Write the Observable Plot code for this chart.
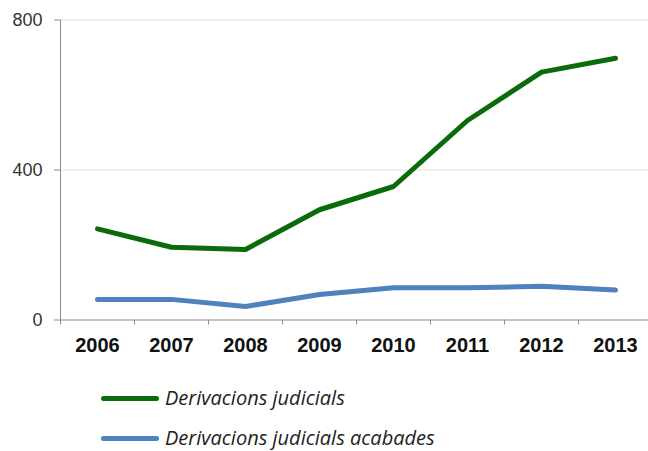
<!DOCTYPE html>
<html>
<head>
<meta charset="utf-8">
<script src="https://cdn.jsdelivr.net/npm/d3@7"></script>
<script src="https://cdn.jsdelivr.net/npm/@observablehq/plot@0.6"></script>
<style>
  html, body { margin: 0; padding: 0; background: #fff; overflow: hidden; }
  #chart { width: 648px; }
  .legend { font-family: "Open Sans", "Liberation Sans", sans-serif; font-style: italic; font-size: 20px; line-height: 22px; color: #222; }
  .row { height: 40px; display: flex; align-items: center; }
  .sw { display: inline-block; width: 58px; height: 5px; border-radius: 3px; margin-left: 101px; margin-right: 6px; }
</style>
</head>
<body>
<div id="chart"></div>
<script>
const years = [2006, 2007, 2008, 2009, 2010, 2011, 2012, 2013];
const derivacions = [243, 194, 188, 294, 356, 532, 661, 698];
const acabades = [55, 55, 36, 68, 86, 86, 90, 80];
const yTicks = [0, 400, 800];
const seriesNames = ["Derivacions judicials", "Derivacions judicials acabades"];
const seriesColors = ["#0a6b0a", "#4f81bd"];

const data = [
  ...years.map((y, i) => ({year: y, value: derivacions[i], series: seriesNames[0]})),
  ...years.map((y, i) => ({year: y, value: acabades[i], series: seriesNames[1]}))
];
const tickPos = years.map(y => y - 0.5);

const plot = Plot.plot({
  width: 648,
  height: 370,
  marginLeft: 60,
  marginRight: -4,
  marginTop: 19.5,
  marginBottom: 50.5,
  style: {fontFamily: "'Liberation Sans', Arial, sans-serif", color: "#262626", background: "#fff"},
  x: {type: "linear", domain: [2005.5, 2013.5]},
  y: {domain: [0, 800]},
  color: {domain: seriesNames, range: seriesColors},
  marks: [
    Plot.gridY([400, 800], {stroke: "#e4e2d2", strokeOpacity: 1}),
    Plot.ruleY([0], {stroke: "#8c8c8c"}),
    Plot.ruleX([2005.5], {stroke: "#8c8c8c"}),
    Plot.axisY(yTicks, {tickSize: 6, tickPadding: 12, fontSize: 18, stroke: "#8c8c8c", fill: "#333", label: null}),
    Plot.axisX(tickPos, {tickSize: 5, tickFormat: () => "", stroke: "#8c8c8c", label: null}),
    Plot.axisX(years, {tickSize: 0, tickPadding: 18, tickFormat: d => String(d), fontSize: 20, fontWeight: "bold", fill: "#111", label: null}),
    Plot.line(data, {x: "year", y: "value", z: "series", stroke: "series", strokeWidth: 5, strokeLinejoin: "round", strokeLinecap: "round"})
  ]
});
document.getElementById("chart").appendChild(plot);

const legend = document.createElement("div");
legend.className = "legend";
legend.style.marginTop = "8px";
seriesNames.forEach((name, i) => {
  const row = document.createElement("div");
  row.className = "row";
  const sw = document.createElement("span");
  sw.className = "sw";
  sw.style.background = seriesColors[i];
  const t = document.createElement("span");
  t.textContent = name;
  row.appendChild(sw);
  row.appendChild(t);
  legend.appendChild(row);
});
document.getElementById("chart").appendChild(legend);
</script>
</body>
</html>
